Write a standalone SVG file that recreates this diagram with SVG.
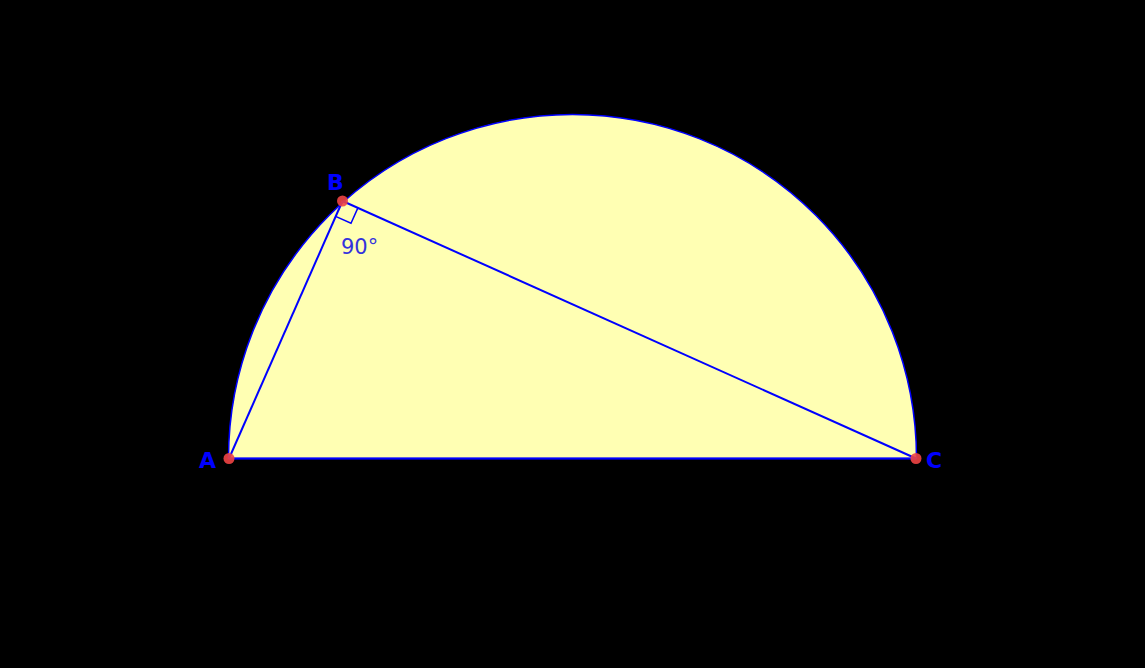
<svg xmlns="http://www.w3.org/2000/svg" width="1145" height="668" viewBox="0 0 1145 668">
<style>
.lbl{font-family:"DejaVu Sans",sans-serif;font-weight:bold;font-size:22px;fill:#0000ff}
.ang{font-family:"DejaVu Sans",sans-serif;font-size:21px;fill:#3333dd}
.pt{fill:#ef4444;fill-opacity:0.9}
.seg{stroke:#0000ff;stroke-width:2;fill:none}
</style>
<rect width="1145" height="668" fill="#000"/>
<g id="semicircle">
<path d="M228.5,458.5 A344,344 0 0 1 572.5,114.5 A344,344 0 0 1 916.5,458.5 Z" fill="#ffffb3" stroke="#0000ff" stroke-width="1.5"/>
</g>
<g id="connectors">
<line class="seg" x1="229" y1="458.5" x2="342.5" y2="201"/>
<line class="seg" x1="342.5" y1="201" x2="916" y2="458.5"/>
<line class="seg" x1="229" y1="458.5" x2="916" y2="458.5"/>
<path d="M335.6,216.4 L351,223.3 L357.9,207.9" fill="none" stroke="#0000ff" stroke-width="1.5"/>
</g>
<g id="A"><circle class="pt" cx="229" cy="458.5" r="5.5"/><text class="lbl" x="199" y="468">A</text></g>
<g id="B"><circle class="pt" cx="342.5" cy="201" r="5.5"/><text class="lbl" x="327" y="190">B</text></g>
<g id="C"><circle class="pt" cx="916" cy="458.5" r="5.5"/><text class="lbl" x="926" y="468">C</text></g>
<g id="angle"><text class="ang" x="341" y="254">90°</text></g>
</svg>
